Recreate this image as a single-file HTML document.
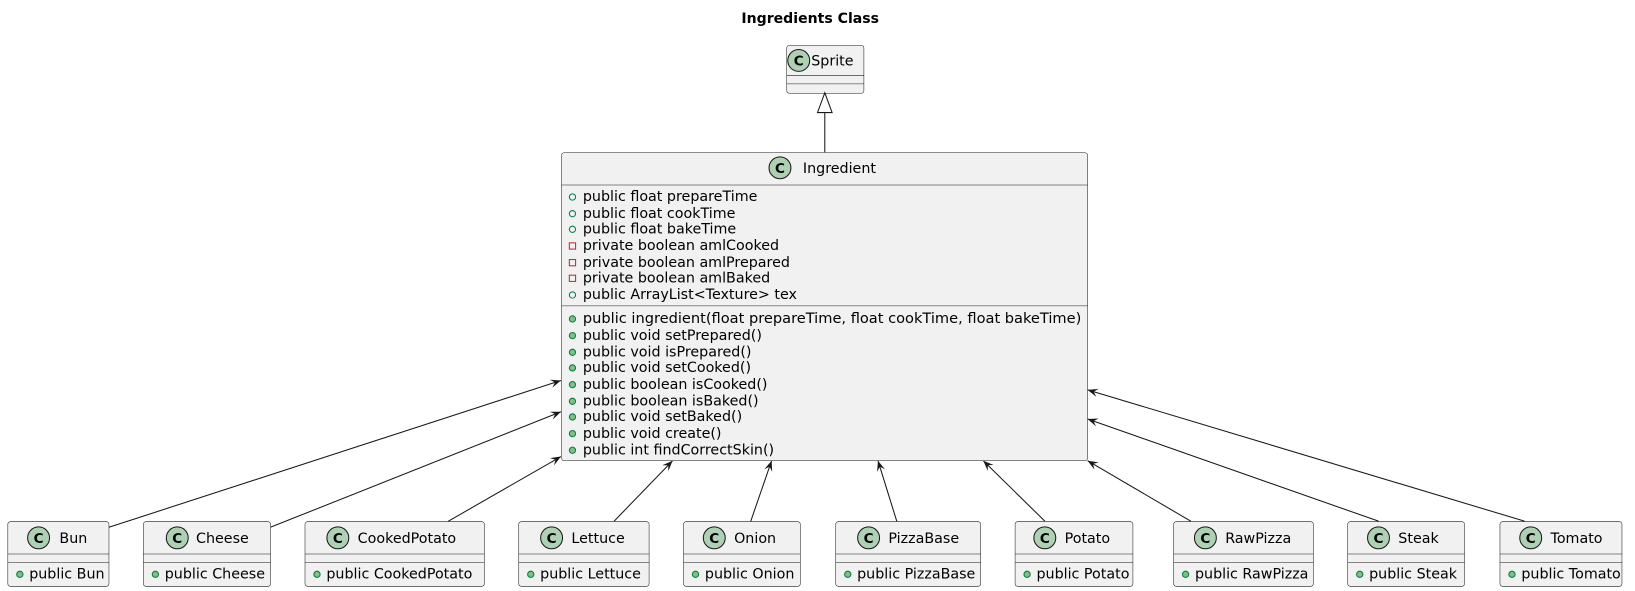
<!DOCTYPE html>
<html><head><meta charset="utf-8"><style>
html,body{margin:0;padding:0;background:#fff;}
svg{display:block;}
svg text{font-family:"DejaVu Sans","Liberation Sans",sans-serif;font-size:13.7px;fill:#000;}
</style></head><body>
<svg width="1635" height="591" viewBox="0 0 1568 567" preserveAspectRatio="none" xmlns="http://www.w3.org/2000/svg">
<defs>
<marker id="ar" viewBox="0 0 10 10" refX="10" refY="5" markerWidth="10" markerHeight="10" orient="auto" markerUnits="userSpaceOnUse">
<path d="M0,1 L10,5 L0,9 L4,5 Z" fill="#181818"/>
</marker>
</defs>
<text x="777" y="22" text-anchor="middle" style="font-weight:bold;font-size:13.5px">Ingredients Class</text>

<rect x="754.5" y="43.5" width="74" height="46" rx="2.5" fill="#F1F1F1" stroke="#181818" stroke-width="0.5"/>
<line x1="754.5" y1="72.5" x2="828.5" y2="72.5" stroke="#181818" stroke-width="0.5"/>
<line x1="754.5" y1="80.5" x2="828.5" y2="80.5" stroke="#181818" stroke-width="0.5"/>
<circle cx="766" cy="58" r="10.5" fill="#ADD1B2" stroke="#181818" stroke-width="1"/>
<text x="766" y="63" text-anchor="middle" style="font-weight:bold;font-size:13px">C</text>
<text x="778" y="63">Sprite</text>

<line x1="791" y1="146" x2="791" y2="108" stroke="#181818"/>
<polygon points="791,89 784,108 798,108" fill="#fff" stroke="#181818"/>

<rect x="538.5" y="146.5" width="504.5" height="295.5" rx="2.5" fill="#F1F1F1" stroke="#181818" stroke-width="0.5"/>
<line x1="538.5" y1="177.5" x2="1043" y2="177.5" stroke="#181818" stroke-width="0.5"/>
<line x1="538.5" y1="293.5" x2="1043" y2="293.5" stroke="#181818" stroke-width="0.5"/>
<circle cx="748" cy="161" r="10.5" fill="#ADD1B2" stroke="#181818" stroke-width="1"/>
<text x="748" y="166" text-anchor="middle" style="font-weight:bold;font-size:13px">C</text>
<text x="770" y="166">Ingredient</text>
<g fill="none" stroke="#038048">
<circle cx="549" cy="189" r="3"/><circle cx="549" cy="205" r="3"/><circle cx="549" cy="220" r="3"/><circle cx="549" cy="283" r="3"/>
</g>
<g fill="none" stroke="#C82930">
<rect x="546" y="233" width="6" height="6"/><rect x="546" y="249" width="6" height="6"/><rect x="546" y="264" width="6" height="6"/>
</g>
<text x="559" y="193">public float prepareTime</text>
<text x="559" y="209">public float cookTime</text>
<text x="559" y="224">public float bakeTime</text>
<text x="559" y="240">private boolean amlCooked</text>
<text x="559" y="256">private boolean amlPrepared</text>
<text x="559" y="271">private boolean amlBaked</text>
<text x="559" y="287">public ArrayList&lt;Texture&gt; tex</text>
<g fill="#84BE84" stroke="#038048">
<circle cx="549" cy="306" r="3"/><circle cx="549" cy="322" r="3"/><circle cx="549" cy="338" r="3"/><circle cx="549" cy="353" r="3"/><circle cx="549" cy="369" r="3"/><circle cx="549" cy="385" r="3"/><circle cx="549" cy="400" r="3"/><circle cx="549" cy="416" r="3"/><circle cx="549" cy="432" r="3"/>
</g>
<text x="559" y="310" textLength="478" lengthAdjust="spacingAndGlyphs">public ingredient(float prepareTime, float cookTime, float bakeTime)</text>
<text x="559" y="326">public void setPrepared()</text>
<text x="559" y="342">public void isPrepared()</text>
<text x="559" y="357">public void setCooked()</text>
<text x="559" y="373">public boolean isCooked()</text>
<text x="559" y="389">public boolean isBaked()</text>
<text x="559" y="404">public void setBaked()</text>
<text x="559" y="420">public void create()</text>
<text x="559" y="436">public int findCorrectSkin()</text>

<g stroke="#181818" stroke-width="1" marker-end="url(#ar)">
<line x1="104" y1="506" x2="538" y2="365"/>
<line x1="259" y1="506" x2="538" y2="395"/>
<line x1="430" y1="500" x2="538" y2="438"/>
<line x1="589" y1="500" x2="645" y2="442"/>
<line x1="720" y1="500" x2="740" y2="442"/>
<line x1="860" y1="500" x2="842" y2="442"/>
<line x1="1002" y1="500" x2="943" y2="442"/>
<line x1="1142" y1="500" x2="1043" y2="442"/>
<line x1="1322" y1="500" x2="1043" y2="402"/>
<line x1="1462" y1="500" x2="1043" y2="374"/>
</g>

<g transform="translate(7,500)">
<rect x="0.5" y="0.5" width="97" height="62" rx="2.5" fill="#F1F1F1" stroke="#181818" stroke-width="0.5"/>
<line x1="0.5" y1="31.5" x2="97.5" y2="31.5" stroke="#181818" stroke-width="0.5"/><line x1="0.5" y1="39.5" x2="97.5" y2="39.5" stroke="#181818" stroke-width="0.5"/>
<circle cx="30" cy="16" r="10.5" fill="#ADD1B2" stroke="#181818"/><text x="30" y="21" text-anchor="middle" style="font-weight:bold;font-size:13px">C</text>
<text x="50" y="21">Bun</text>
<circle cx="12" cy="51" r="3" fill="#84BE84" stroke="#038048"/><text x="21" y="55">public Bun</text></g>

<g transform="translate(137,500)">
<rect x="0.5" y="0.5" width="122" height="62" rx="2.5" fill="#F1F1F1" stroke="#181818" stroke-width="0.5"/>
<line x1="0.5" y1="31.5" x2="122.5" y2="31.5" stroke="#181818" stroke-width="0.5"/><line x1="0.5" y1="39.5" x2="122.5" y2="39.5" stroke="#181818" stroke-width="0.5"/>
<circle cx="33" cy="16" r="10.5" fill="#ADD1B2" stroke="#181818"/><text x="33" y="21" text-anchor="middle" style="font-weight:bold;font-size:13px">C</text>
<text x="51" y="21">Cheese</text>
<circle cx="12" cy="51" r="3" fill="#84BE84" stroke="#038048"/><text x="21" y="55">public Cheese</text></g>

<g transform="translate(292,500)">
<rect x="0.5" y="0.5" width="172" height="62" rx="2.5" fill="#F1F1F1" stroke="#181818" stroke-width="0.5"/>
<line x1="0.5" y1="31.5" x2="172.5" y2="31.5" stroke="#181818" stroke-width="0.5"/><line x1="0.5" y1="39.5" x2="172.5" y2="39.5" stroke="#181818" stroke-width="0.5"/>
<circle cx="32" cy="16" r="10.5" fill="#ADD1B2" stroke="#181818"/><text x="32" y="21" text-anchor="middle" style="font-weight:bold;font-size:13px">C</text>
<text x="51" y="21">CookedPotato</text>
<circle cx="12" cy="51" r="3" fill="#84BE84" stroke="#038048"/><text x="21" y="55">public CookedPotato</text></g>

<g transform="translate(497,500)">
<rect x="0.5" y="0.5" width="125" height="62" rx="2.5" fill="#F1F1F1" stroke="#181818" stroke-width="0.5"/>
<line x1="0.5" y1="31.5" x2="125.5" y2="31.5" stroke="#181818" stroke-width="0.5"/><line x1="0.5" y1="39.5" x2="125.5" y2="39.5" stroke="#181818" stroke-width="0.5"/>
<circle cx="32" cy="16" r="10.5" fill="#ADD1B2" stroke="#181818"/><text x="32" y="21" text-anchor="middle" style="font-weight:bold;font-size:13px">C</text>
<text x="51" y="21">Lettuce</text>
<circle cx="12" cy="51" r="3" fill="#84BE84" stroke="#038048"/><text x="21" y="55">public Lettuce</text></g>

<g transform="translate(655,500)">
<rect x="0.5" y="0.5" width="112" height="62" rx="2.5" fill="#F1F1F1" stroke="#181818" stroke-width="0.5"/>
<line x1="0.5" y1="31.5" x2="112.5" y2="31.5" stroke="#181818" stroke-width="0.5"/><line x1="0.5" y1="39.5" x2="112.5" y2="39.5" stroke="#181818" stroke-width="0.5"/>
<circle cx="30" cy="16" r="10.5" fill="#ADD1B2" stroke="#181818"/><text x="30" y="21" text-anchor="middle" style="font-weight:bold;font-size:13px">C</text>
<text x="49" y="21">Onion</text>
<circle cx="12" cy="51" r="3" fill="#84BE84" stroke="#038048"/><text x="21" y="55">public Onion</text></g>

<g transform="translate(801,500)">
<rect x="0.5" y="0.5" width="139" height="62" rx="2.5" fill="#F1F1F1" stroke="#181818" stroke-width="0.5"/>
<line x1="0.5" y1="31.5" x2="139.5" y2="31.5" stroke="#181818" stroke-width="0.5"/><line x1="0.5" y1="39.5" x2="139.5" y2="39.5" stroke="#181818" stroke-width="0.5"/>
<circle cx="32" cy="16" r="10.5" fill="#ADD1B2" stroke="#181818"/><text x="32" y="21" text-anchor="middle" style="font-weight:bold;font-size:13px">C</text>
<text x="51" y="21">PizzaBase</text>
<circle cx="12" cy="51" r="3" fill="#84BE84" stroke="#038048"/><text x="21" y="55">public PizzaBase</text></g>

<g transform="translate(973,500)">
<rect x="0.5" y="0.5" width="113" height="62" rx="2.5" fill="#F1F1F1" stroke="#181818" stroke-width="0.5"/>
<line x1="0.5" y1="31.5" x2="113.5" y2="31.5" stroke="#181818" stroke-width="0.5"/><line x1="0.5" y1="39.5" x2="113.5" y2="39.5" stroke="#181818" stroke-width="0.5"/>
<circle cx="29" cy="16" r="10.5" fill="#ADD1B2" stroke="#181818"/><text x="29" y="21" text-anchor="middle" style="font-weight:bold;font-size:13px">C</text>
<text x="48" y="21">Potato</text>
<circle cx="12" cy="51" r="3" fill="#84BE84" stroke="#038048"/><text x="21" y="55">public Potato</text></g>

<g transform="translate(1125,500)">
<rect x="0.5" y="0.5" width="134" height="62" rx="2.5" fill="#F1F1F1" stroke="#181818" stroke-width="0.5"/>
<line x1="0.5" y1="31.5" x2="134.5" y2="31.5" stroke="#181818" stroke-width="0.5"/><line x1="0.5" y1="39.5" x2="134.5" y2="39.5" stroke="#181818" stroke-width="0.5"/>
<circle cx="31" cy="16" r="10.5" fill="#ADD1B2" stroke="#181818"/><text x="31" y="21" text-anchor="middle" style="font-weight:bold;font-size:13px">C</text>
<text x="50" y="21">RawPizza</text>
<circle cx="12" cy="51" r="3" fill="#84BE84" stroke="#038048"/><text x="21" y="55">public RawPizza</text></g>

<g transform="translate(1292,500)">
<rect x="0.5" y="0.5" width="112" height="62" rx="2.5" fill="#F1F1F1" stroke="#181818" stroke-width="0.5"/>
<line x1="0.5" y1="31.5" x2="112.5" y2="31.5" stroke="#181818" stroke-width="0.5"/><line x1="0.5" y1="39.5" x2="112.5" y2="39.5" stroke="#181818" stroke-width="0.5"/>
<circle cx="30" cy="16" r="10.5" fill="#ADD1B2" stroke="#181818"/><text x="30" y="21" text-anchor="middle" style="font-weight:bold;font-size:13px">C</text>
<text x="49" y="21">Steak</text>
<circle cx="12" cy="51" r="3" fill="#84BE84" stroke="#038048"/><text x="21" y="55">public Steak</text></g>

<g transform="translate(1438,500)">
<rect x="0.5" y="0.5" width="117" height="62" rx="2.5" fill="#F1F1F1" stroke="#181818" stroke-width="0.5"/>
<line x1="0.5" y1="31.5" x2="117.5" y2="31.5" stroke="#181818" stroke-width="0.5"/><line x1="0.5" y1="39.5" x2="117.5" y2="39.5" stroke="#181818" stroke-width="0.5"/>
<circle cx="30" cy="16" r="10.5" fill="#ADD1B2" stroke="#181818"/><text x="30" y="21" text-anchor="middle" style="font-weight:bold;font-size:13px">C</text>
<text x="49" y="21">Tomato</text>
<circle cx="12" cy="51" r="3" fill="#84BE84" stroke="#038048"/><text x="21" y="55">public Tomato</text></g>
</svg>
</body></html>
